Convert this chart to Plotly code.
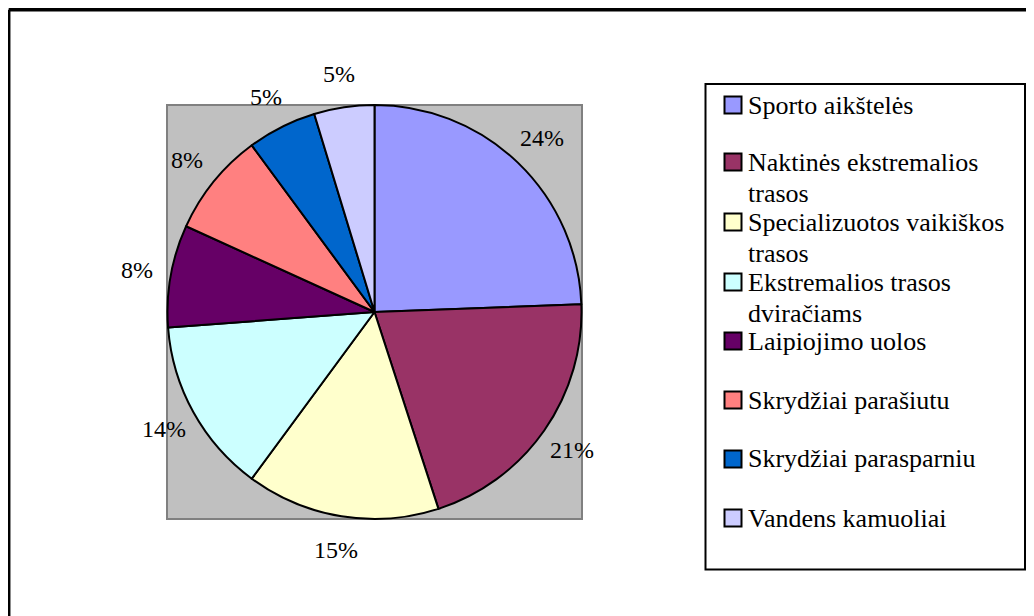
import math
import plotly.graph_objects as go

W, H = 1034, 616
OFF = 8  # page body margin that the browser adds around the plot div

categories = [
    "Sporto aikštelės",
    "Naktinės ekstremalios<br>trasos",
    "Specializuotos vaikiškos<br>trasos",
    "Ekstremalios trasos<br>dviračiams",
    "Laipiojimo uolos",
    "Skrydžiai parašiutu",
    "Skrydžiai parasparniu",
    "Vandens kamuoliai",
]
values = [24.4, 20.6, 15.1, 13.7, 8.0, 8.1, 5.4, 4.7]
colors = ["#9999FF", "#993366", "#FFFFCC", "#CCFFFF",
          "#660066", "#FF8080", "#0066CC", "#CCCCFF"]

FONT = "'Times New Roman', 'Liberation Serif', 'DejaVu Serif', serif"


def px(x):
    return (x - OFF) / W


def py(y):
    return 1 - (y - OFF) / H


# plot-area square (page pixels)
SQ_L, SQ_R, SQ_T, SQ_B = 167, 582, 105, 519
CX, CY = (SQ_L + SQ_R) / 2, (SQ_T + SQ_B) / 2
LABEL_R = 241

fig = go.Figure()
fig.add_trace(go.Pie(
    labels=categories,
    values=values,
    sort=False,
    direction="clockwise",
    rotation=0,
    marker=dict(colors=colors, line=dict(color="black", width=2)),
    textinfo="none",
    showlegend=False,
    hoverinfo="label+percent",
    domain=dict(x=[px(SQ_L), px(SQ_R)], y=[py(SQ_B), py(SQ_T)]),
))

shapes = []
annotations = []

# percentage labels outside the slices, placed along each slice's mid-angle
total = sum(values)
cum = 0.0
for v in values:
    mid = (cum + v / 2) / total * 2 * math.pi
    cum += v
    lx = CX + LABEL_R * math.sin(mid)
    ly = CY - LABEL_R * math.cos(mid)
    annotations.append(dict(xref="paper", yref="paper", x=px(lx), y=py(ly),
                            xanchor="center", yanchor="middle",
                            text=f"{round(v / total * 100)}%", showarrow=False,
                            font=dict(family=FONT, size=24, color="black")))

# outer frame (top and left edges visible)
shapes.append(dict(type="line", xref="paper", yref="paper",
                   x0=px(8.7), x1=px(1050), y0=py(9.8), y1=py(9.8),
                   line=dict(color="black", width=3.5)))
shapes.append(dict(type="line", xref="paper", yref="paper",
                   x0=px(8.7), x1=px(8.7), y0=py(9.8), y1=py(630),
                   line=dict(color="black", width=3.5)))
# plot area
shapes.append(dict(type="rect", xref="paper", yref="paper", layer="below",
                   x0=px(SQ_L), x1=px(SQ_R), y0=py(SQ_B), y1=py(SQ_T),
                   fillcolor="#C0C0C0", line=dict(color="#808080", width=2)))
# legend box
shapes.append(dict(type="rect", xref="paper", yref="paper",
                   x0=px(705.5), x1=px(1025), y0=py(569.5), y1=py(84),
                   fillcolor="rgba(0,0,0,0)", line=dict(color="black", width=2)))

LINE_GAP = 31
entry_y = [105, 162, 222, 282, 341, 400, 459, 518]
for cat, col, yc in zip(categories, colors, entry_y):
    shapes.append(dict(type="rect", xref="paper", yref="paper",
                       x0=px(724.5), x1=px(741.5), y0=py(yc + 8.5), y1=py(yc - 8.5),
                       fillcolor=col, line=dict(color="black", width=2)))
    for i, line in enumerate(cat.split("<br>")):
        annotations.append(dict(xref="paper", yref="paper", x=px(746),
                                y=py(yc + i * LINE_GAP),
                                xanchor="left", yanchor="middle", align="left",
                                text=line, showarrow=False,
                                font=dict(family=FONT, size=26, color="black")))

fig.update_layout(
    width=W, height=H,
    margin=dict(l=0, r=0, t=0, b=0),
    paper_bgcolor="white",
    shapes=shapes,
    annotations=annotations,
)

fig.write_html("out.html")
